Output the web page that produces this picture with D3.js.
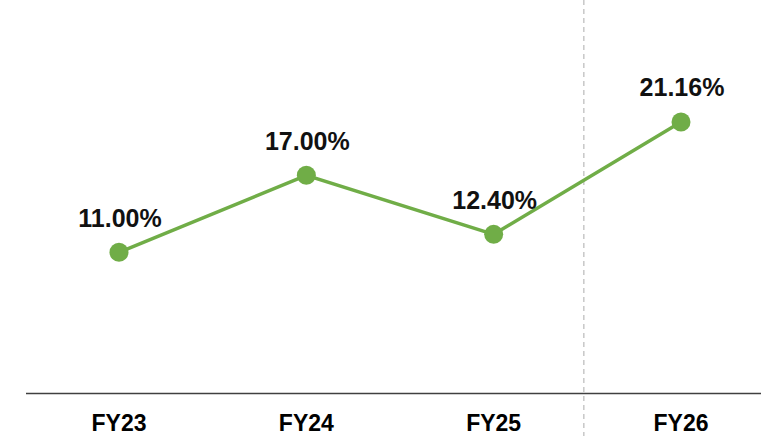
<!DOCTYPE html>
<html>
<head>
<meta charset="utf-8">
<script src="https://cdn.jsdelivr.net/npm/d3@7"></script>
<style>
  html, body { margin: 0; padding: 0; background: #fff; }
  svg { display: block; }
</style>
</head>
<body>
<svg id="chart" width="761" height="436"></svg>
<script>
const categories = ["FY23", "FY24", "FY25", "FY26"];
const values = [11.00, 17.00, 12.40, 21.16];
const valueLabels = ["11.00%", "17.00%", "12.40%", "21.16%"];
const forecastStart = "FY26";

const W = 761, H = 436;
const svg = d3.select("#chart");

const x = d3.scalePoint().domain(categories).range([119, 681]);
const y = d3.scaleLinear().domain([0, 30]).range([393.5, 8.5]);

const green = "#70AD47";
const font = "'Liberation Sans', Arial, sans-serif";

// dashed divider between actual and forecast
const divX = (x(categories[categories.indexOf(forecastStart) - 1]) + x(forecastStart)) / 2 - 3.5;
svg.append("line")
  .attr("x1", divX).attr("x2", divX)
  .attr("y1", 0).attr("y2", H)
  .attr("stroke", "#bfbfbf")
  .attr("stroke-width", 1.3)
  .attr("stroke-dasharray", "5,4");

// baseline axis
svg.append("line")
  .attr("x1", 26).attr("x2", W)
  .attr("y1", y(0)).attr("y2", y(0))
  .attr("stroke", "#404040")
  .attr("stroke-width", 1.5);

// category labels
svg.append("g").selectAll("text")
  .data(categories)
  .join("text")
  .attr("x", d => x(d))
  .attr("y", 431)
  .attr("text-anchor", "middle")
  .attr("font-family", font)
  .attr("font-weight", "bold")
  .attr("font-size", 23)
  .attr("fill", "#000")
  .text(d => d);

const data = categories.map((c, i) => ({ c, v: values[i], label: valueLabels[i] }));

// line
svg.append("path")
  .datum(data)
  .attr("fill", "none")
  .attr("stroke", green)
  .attr("stroke-width", 3.5)
  .attr("d", d3.line().x(d => x(d.c)).y(d => y(d.v)));

// points
svg.append("g").selectAll("circle")
  .data(data)
  .join("circle")
  .attr("cx", d => x(d.c))
  .attr("cy", d => y(d.v))
  .attr("r", 9.5)
  .attr("fill", green);

// value labels
svg.append("g").selectAll("text")
  .data(data)
  .join("text")
  .attr("x", d => x(d.c) + 1)
  .attr("y", d => y(d.v) - 25.5)
  .attr("text-anchor", "middle")
  .attr("font-family", font)
  .attr("font-weight", "bold")
  .attr("font-size", 25)
  .attr("fill", "#111")
  .text(d => d.label);
</script>
</body>
</html>
